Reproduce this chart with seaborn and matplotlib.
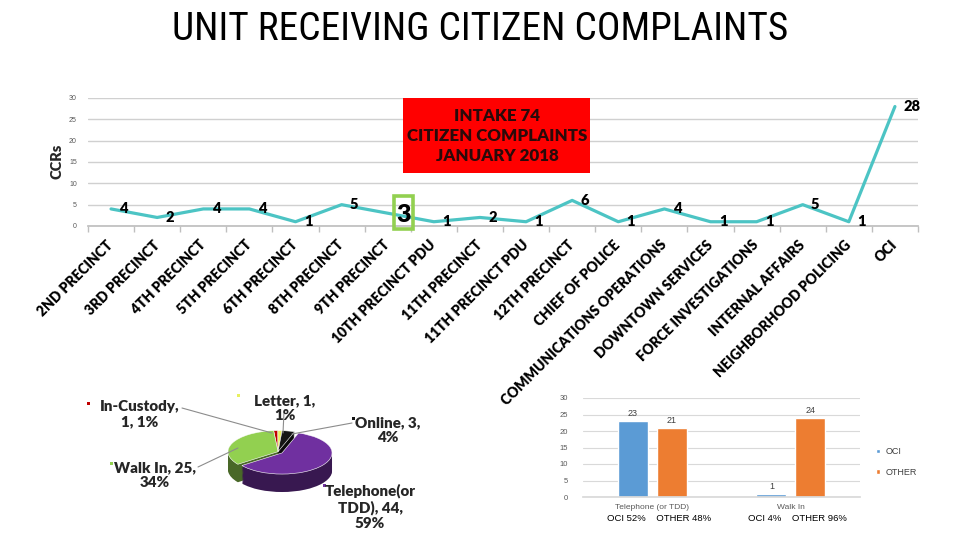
import textwrap
import numpy as np
import pandas as pd
import matplotlib
matplotlib.use("Agg")
import matplotlib.pyplot as plt
import seaborn as sns
from matplotlib import font_manager as fm
from matplotlib.patches import Rectangle, Patch
from matplotlib.lines import Line2D
from matplotlib.colors import to_rgb
import matplotlib.transforms as mtransforms

# ---------------- data ----------------
units = ["2ND PRECINCT", "3RD PRECINCT", "4TH PRECINCT", "5TH PRECINCT",
         "6TH PRECINCT", "8TH PRECINCT", "9TH PRECINCT", "10TH PRECINCT PDU",
         "11TH PRECINCT", "11TH PRECINCT PDU", "12TH PRECINCT", "CHIEF OF POLICE",
         "COMMUNICATIONS OPERATIONS", "DOWNTOWN SERVICES", "FORCE INVESTIGATIONS",
         "INTERNAL AFFAIRS", "NEIGHBORHOOD POLICING", "OCI"]
ccrs = [4, 2, 4, 4, 1, 5, 3, 1, 2, 1, 6, 1, 4, 1, 1, 5, 1, 28]
highlight_unit = "9TH PRECINCT"

methods = ["In-Custody", "Letter", "Online", "Telephone(or TDD)", "Walk In"]
method_counts = [1, 1, 3, 44, 25]

channels = ["Telephone (or TDD)", "Walk In"]
oci_counts = [23, 1]
other_counts = [21, 24]
groups = ["OCI", "OTHER"]

title = "UNIT RECEIVING CITIZEN COMPLAINTS"
box_text = "INTAKE 74\nCITIZEN COMPLAINTS\nJANUARY 2018"

# ---------------- fonts ----------------
def has_font(name):
    try:
        fm.findfont(fm.FontProperties(family=name), fallback_to_default=False)
        return True
    except Exception:
        return False


def pick_narrow():
    for fam in ["Roboto Condensed", "Liberation Sans Narrow", "Open Sans Condensed",
                "Arial Narrow", "DejaVu Sans Condensed"]:
        if has_font(fam):
            return fam, "normal"
    for fam in ["DejaVu Sans", "Open Sans", "Roboto", "Noto Sans", "Liberation Sans"]:
        try:
            f = fm.findfont(fm.FontProperties(family=fam, stretch="condensed"),
                            fallback_to_default=False)
            if "ondensed" in f or "arrow" in f:
                return fam, "condensed"
        except Exception:
            pass
    return "Roboto", "normal"


NARROW, STRETCH = pick_narrow()
BOLDF = "Lato" if has_font("Lato") else "Liberation Sans"
BW = "heavy"

sns.set_theme(style="white")
plt.rcParams["font.family"] = ["Liberation Sans", "DejaVu Sans"]

W, H = 960, 540
fig = plt.figure(figsize=(9.6, 5.4), dpi=100)
fig.patch.set_facecolor("white")
renderer = fig.canvas.get_renderer()


def fit_size(sample, target_px, family, weight="normal", stretch="normal"):
    t = fig.text(0, 0, sample, fontsize=10, family=family, fontweight=weight,
                 fontstretch=stretch)
    w = t.get_window_extent(renderer=renderer).width
    t.remove()
    return 10 * target_px / w


def px(x, y):
    return (x / W, 1 - y / H)


def box(x0, y0, x1, y1):
    return [x0 / W, 1 - y1 / H, (x1 - x0) / W, (y1 - y0) / H]


FS_TITLE = fit_size(title, 616, NARROW, "normal", STRETCH)
FS_BOX = fit_size("CITIZEN COMPLAINTS", 179, BOLDF, BW)
FS_TICK = fit_size("2ND PRECINCT", 100, BOLDF, BW)
FS_PIE = fit_size("In-Custody,", 80, BOLDF, BW)
FS_VAL = FS_TICK * 1.05

# ---------------- title ----------------
fig.text(0.5, 1 - 29 / H, title, ha="center", va="center",
         fontsize=FS_TITLE, family=NARROW, fontstretch=STRETCH, color="black")

# ---------------- line chart ----------------
ax = fig.add_axes(box(88, 98, 918, 226))
line_df = pd.DataFrame({"pos": np.arange(len(units)), "unit": units, "ccrs": ccrs})
sns.lineplot(data=line_df, x="pos", y="ccrs", ax=ax, color="#4CC4C4",
             linewidth=2.3, sort=False)
ax.set_xlim(-0.5, len(units) - 0.5)
ax.set_ylim(0, 30)
ax.set_yticks(range(0, 31, 5))
ax.tick_params(axis="y", labelsize=5, colors="#595959", length=0, pad=8)
ax.yaxis.grid(True, color="#D0D0D0", linewidth=1)
ax.set_xticks(line_df["pos"])
ax.set_xticklabels(units, rotation=45, ha="right", va="center",
                   rotation_mode="anchor", fontsize=FS_TICK, fontweight=BW,
                   family=BOLDF, color="black")
ax.tick_params(axis="x", which="major", length=0, pad=12)
ax.set_xticks(np.arange(-0.5, len(units), 1), minor=True)
ax.tick_params(axis="x", which="minor", length=4, color="#BFBFBF", width=1,
               direction="out", bottom=True)
for sp in ["left", "right", "top"]:
    ax.spines[sp].set_visible(False)
ax.spines["bottom"].set_color("#BFBFBF")
ax.set_xlabel("")
ax.set_ylabel("")

for i, (u, v) in enumerate(zip(units, ccrs)):
    if u == highlight_unit:
        ax.annotate(str(v), (i, v), xytext=(11.5, -1), textcoords="offset points",
                    ha="center", va="center", fontsize=FS_VAL * 1.7,
                    fontweight=BW, family=BOLDF, color="black",
                    annotation_clip=False)
        trans = fig.dpi_scale_trans + mtransforms.ScaledTranslation(i, v, ax.transData)
        ax.add_patch(Rectangle((0.065, -0.16), 0.19, 0.33, transform=trans,
                               fill=False, edgecolor="#92D050", linewidth=2.6,
                               clip_on=False, zorder=5))
    else:
        ax.annotate(str(v), (i, v), xytext=(6, 0), textcoords="offset points",
                    ha="left", va="center", fontsize=FS_VAL, fontweight=BW,
                    family=BOLDF, color="black", annotation_clip=False)

fig.text(*px(57, 161), "CCRs", rotation=90, ha="center", va="center",
         fontsize=FS_TICK * 1.05, fontweight=BW, family=BOLDF,
         color="#262626")

# red intake box
fig.patches.append(Rectangle(px(403, 173), 187 / W, 75 / H, transform=fig.transFigure,
                             facecolor="#FF0000", edgecolor="none", zorder=5))
fig.text(*px(497, 136), box_text, ha="center", va="center", fontsize=FS_BOX,
         family=BOLDF, fontweight=BW, color="#2A0A0A",
         linespacing=1.3, zorder=6)

# ---------------- pie chart ----------------
pax = fig.add_axes(box(213, 420, 343, 514))
pie_colors = ["#C00000", "#E8F060", "#151515", "#7030A0", "#92D050"]
dark_colors = [tuple(c * 0.5 for c in to_rgb(col)) for col in pie_colors]
explode = [0, 0, 0, 0.1, 0]
depth = 0.85
for k in np.linspace(depth, 0.02, 16):
    pax.pie(method_counts, colors=dark_colors, startangle=95, counterclock=False,
            explode=explode, center=(0, -k), radius=1,
            wedgeprops=dict(linewidth=0))
pax.pie(method_counts, colors=pie_colors, startangle=95, counterclock=False,
        explode=explode, center=(0, 0), radius=1,
        wedgeprops=dict(linewidth=0.4, edgecolor="white"))
pax.set_aspect("auto")
pax.set_xlim(-1.3, 1.3)
pax.set_ylim(-2.95, 1.5)
pax.axis("off")

total = sum(method_counts)
pie_label_pos = {"In-Custody": (140, 414), "Letter": (285, 408),
                 "Online": (388, 430), "Telephone(or TDD)": (370, 507),
                 "Walk In": (155, 475)}
marker_pos = {"In-Custody": (88, 403), "Letter": (238, 395),
              "Online": (353, 418), "Telephone(or TDD)": (324, 485),
              "Walk In": (111, 463)}
for name, c, col in zip(methods, method_counts, pie_colors):
    pct = round(100 * c / total)
    txt = "\n".join(textwrap.wrap(f"{name}, {c}, {pct}%", 12))
    fig.text(*px(*pie_label_pos[name]), txt, ha="center", va="center",
             fontsize=FS_PIE, fontweight=BW, family=BOLDF,
             color="#262626", linespacing=1.2)
    mx, my = marker_pos[name]
    fig.patches.append(Rectangle(px(mx - 1.5, my + 1.5), 3 / W, 3 / H,
                                 transform=fig.transFigure, facecolor=col,
                                 edgecolor="none"))

leaders = [((182, 408), (272, 433)), ((284, 412), (283, 433)),
           ((352, 423), (292, 434)), ((198, 467), (238, 448))]
for (a, b) in leaders:
    fig.lines.append(Line2D([a[0] / W, b[0] / W], [1 - a[1] / H, 1 - b[1] / H],
                            transform=fig.transFigure, color="#8C8C8C", lw=0.8))

# ---------------- bar chart ----------------
bax = fig.add_axes(box(583, 398, 860, 497))
bar_df = pd.DataFrame({
    "channel": channels * 2,
    "group": [groups[0]] * len(channels) + [groups[1]] * len(channels),
    "count": oci_counts + other_counts,
})
sns.barplot(data=bar_df, x="channel", y="count", hue="group", order=channels,
            hue_order=groups, palette=["#5B9BD5", "#ED7D31"], width=0.56,
            gap=0.23, ax=bax, legend=False, saturation=1)
for cont in bax.containers:
    bax.bar_label(cont, fontsize=6.5, color="#404040", padding=2)
bax.set_ylim(0, 30)
bax.set_yticks(range(0, 31, 5))
bax.yaxis.grid(True, color="#D9D9D9", linewidth=0.8)
bax.set_axisbelow(True)
bax.tick_params(axis="y", labelsize=5.5, colors="#595959", length=0, pad=11)
bax.tick_params(axis="x", labelsize=6, colors="#595959", length=0, pad=5)
for sp in ["left", "right", "top"]:
    bax.spines[sp].set_visible(False)
bax.spines["bottom"].set_color("#D9D9D9")
bax.set_xlabel("")
bax.set_ylabel("")

btrans = mtransforms.blended_transform_factory(bax.transData, bax.transAxes)
for i, ch in enumerate(channels):
    tot = oci_counts[i] + other_counts[i]
    p1 = round(100 * oci_counts[i] / tot)
    p2 = round(100 * other_counts[i] / tot)
    bax.text(i + 0.05, -0.22, f"OCI {p1}%    OTHER {p2}%", transform=btrans,
             ha="center", va="center", fontsize=6.8, color="black")

handles = [Patch(facecolor="#5B9BD5", label="OCI"),
           Patch(facecolor="#ED7D31", label="OTHER")]
fig.legend(handles=handles, loc="center left", bbox_to_anchor=px(868, 462),
           frameon=False, fontsize=6.5, handlelength=0.4, handleheight=0.4,
           labelspacing=1.3, handletextpad=0.6, labelcolor="#404040")

fig.savefig("out.png", dpi=100, facecolor="white")
